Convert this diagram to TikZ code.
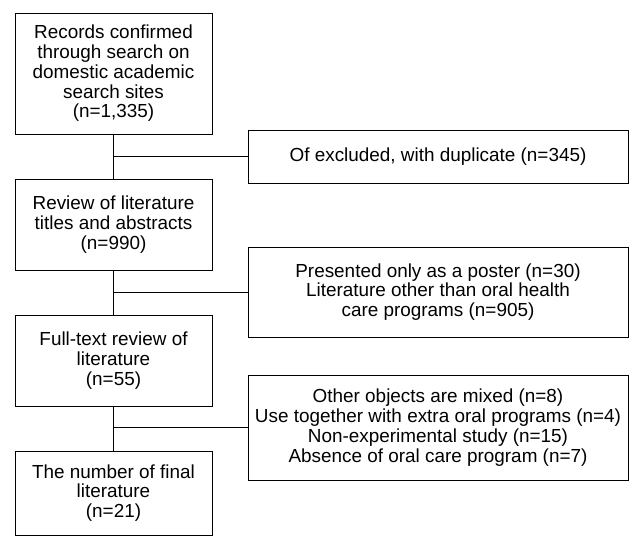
\documentclass[tikz,border=0pt]{standalone}
\usepackage{fontspec}
\setmainfont{Liberation Sans}
\begin{document}
\begin{tikzpicture}[x=1pt,y=-1pt,
  box/.style={draw=black,line width=1pt,fill=white,align=center,inner sep=0pt,
    font=\fontsize{18.9}{19.8}\selectfont},
  lbox/.style={box,minimum width=197pt},
  rbox/.style={box,minimum width=380pt},
  conn/.style={draw=black,line width=1pt}]
\useasboundingbox (0,0) rectangle (630,536);
\node[lbox,minimum height=121pt] (l1) at (113.5,73.5) {Records confirmed\\through search on\\domestic academic\\search sites\\(n=1,335)};
\node[lbox,minimum height=91pt] (l2) at (113.5,224.5) {Review of literature\\titles and abstracts\\(n=990)};
\node[lbox,minimum height=91pt] (l3) at (113.5,360.5) {Full-text review of\\literature\\(n=55)};
\node[lbox,minimum height=84pt] (l4) at (113.5,493) {The number of final\\literature\\(n=21)};
\node[rbox,minimum height=53pt] (r1) at (438,156.5) {Of excluded, with duplicate (n=345)};
\node[rbox,minimum height=90pt] (r2) at (438,292) {Presented only as a poster (n=30)\\Literature other than oral health\\care programs (n=905)};
\node[rbox,minimum height=105pt] (r3) at (438,427.5) {Other objects are mixed (n=8)\\Use together with extra oral programs (n=4)\\Non-experimental study (n=15)\\Absence of oral care program (n=7)};
\draw[conn] (l1.south) -- (l2.north);
\draw[conn] (l2.south) -- (l3.north);
\draw[conn] (l3.south) -- (l4.north);
\draw[conn] (r1.west) -- (r1.west -| l1.south);
\draw[conn] (r2.west) -- (r2.west -| l2.south);
\draw[conn] (r3.west) -- (r3.west -| l3.south);
\end{tikzpicture}
\end{document}
